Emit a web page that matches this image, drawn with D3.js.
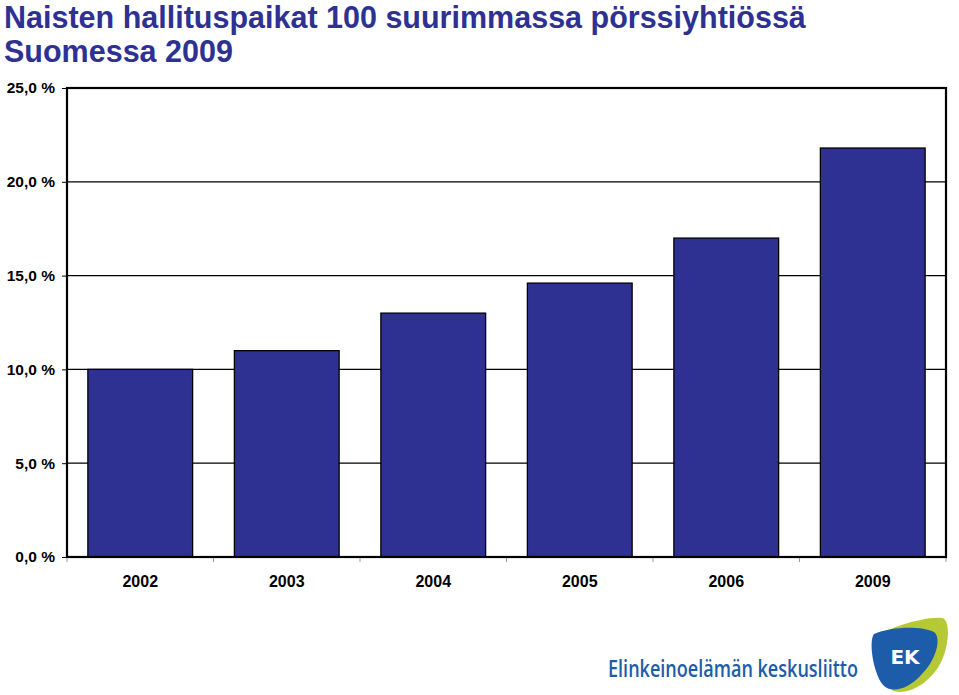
<!DOCTYPE html>
<html><head><meta charset="utf-8">
<script src="https://cdn.jsdelivr.net/npm/d3@7"></script>
<style>
body{margin:0;background:#fff;}
svg{display:block;}
</style></head>
<body>
<svg id="chart" width="959" height="695"></svg>
<script>
const categories = ["2002","2003","2004","2005","2006","2009"];
const values = [10.0, 11.0, 13.0, 14.6, 17.0, 21.8];
const yTicks = [0, 5, 10, 15, 20, 25];
const titleLines = ["Naisten hallituspaikat 100 suurimmassa pörssiyhtiössä", "Suomessa 2009"];
const logoText = "Elinkeinoelämän keskusliitto";

const svg = d3.select("#chart");
const M = {left:67, right:946, top:88, bottom:557};

const x = d3.scaleBand().domain(categories).range([M.left, M.right]).paddingInner(0.285).paddingOuter(0.1425);
const y = d3.scaleLinear().domain([0,25]).range([M.bottom, M.top]);

// title
svg.append("g").selectAll("text").data(titleLines).join("text")
  .attr("x", 4).attr("y", (d,i)=>27.5 + i*34.5)
  .attr("font-family","Liberation Sans, Arial, sans-serif")
  .attr("font-weight","bold").attr("font-size",30.5)
  .attr("fill","#2E3192").text(d=>d);

// gridlines
svg.append("g").selectAll("line").data(yTicks.filter(t=>t>0 && t<25)).join("line")
  .attr("x1",M.left).attr("x2",M.right).attr("y1",d=>y(d)).attr("y2",d=>y(d))
  .attr("stroke","#000").attr("stroke-width",1.2);

// y axis
const yAxis = d3.axisLeft(y).tickValues(yTicks).tickSize(5).tickPadding(7)
  .tickFormat(d=>d3.format(".1f")(d).replace(".",",") + " %");
const gy = svg.append("g").attr("transform",`translate(${M.left},0)`).call(yAxis);
gy.attr("font-size",null).attr("font-family",null);
gy.select(".domain").remove();
gy.selectAll(".tick line").attr("stroke","#000").attr("stroke-width",1);
gy.selectAll(".tick text").style("font-family","Liberation Sans, Arial, sans-serif")
  .style("font-weight","bold").style("font-size","15.5px").attr("fill","#000");

// bars
svg.append("g").selectAll("rect").data(values).join("rect")
  .attr("x",(d,i)=>x(categories[i])).attr("width",x.bandwidth())
  .attr("y",d=>y(d)).attr("height",d=>y(0)-y(d))
  .attr("fill","#2E3192").attr("stroke","#000").attr("stroke-width",1.3);

// x axis
const xEdges = d3.scaleLinear().domain([0,categories.length]).range([M.left,M.right]);
svg.append("g").selectAll("line").data(d3.range(categories.length+1)).join("line")
  .attr("x1",d=>xEdges(d)).attr("x2",d=>xEdges(d)).attr("y1",M.bottom).attr("y2",M.bottom+5)
  .attr("stroke","#999").attr("stroke-width",1);
svg.append("g").selectAll("text").data(categories).join("text")
  .attr("x",d=>x(d)+x.bandwidth()/2).attr("y",587).attr("text-anchor","middle")
  .style("font-family","Liberation Sans, Arial, sans-serif")
  .style("font-weight","bold").style("font-size","16px").attr("fill","#000").text(d=>d);

// frame
svg.append("rect").attr("x",M.left).attr("y",M.top)
  .attr("width",M.right-M.left).attr("height",M.bottom-M.top)
  .attr("fill","none").attr("stroke","#000").attr("stroke-width",2.2);

// logo
const logo = svg.append("g");
logo.append("text").attr("x",608).attr("y",677)
  .style("font-family","Open Sans, DejaVu Sans, sans-serif").style("font-size","23px").style("font-weight","600")
  .attr("fill","#1D5CA8").attr("textLength",250).attr("lengthAdjust","spacingAndGlyphs").text(logoText);
// lime background shape
logo.append("path")
  .attr("d","M872,640 C885,628 925,616 942,618 C950,620 949,640 944,655 C936,678 915,692 900,692 C888,692 875,680 872,640 Z")
  .attr("fill","#B5C935");
// blue shield
logo.append("path")
  .attr("d","M874,634 C892,626 922,626 934,632 C942,638 936,660 922,674 C908,690 892,693 884,686 C874,676 868,642 874,634 Z")
  .attr("fill","#1D5CA8");
logo.append("text").attr("x",905).attr("y",664).attr("text-anchor","middle")
  .style("font-family","DejaVu Sans, sans-serif").style("font-weight","bold").style("font-size","20px")
  .attr("fill","#fff").text("EK");
</script>
</body></html>
